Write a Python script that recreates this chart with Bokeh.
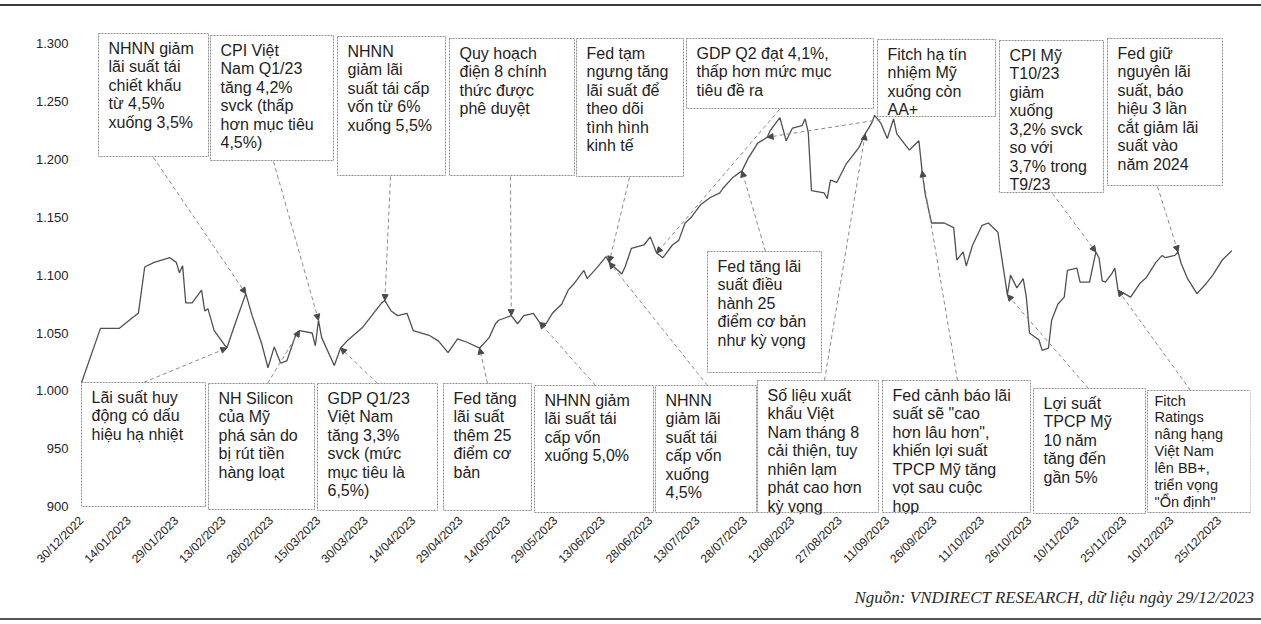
import math
from datetime import datetime, timedelta

from bokeh.plotting import figure
from bokeh.models import (ColumnDataSource, Range1d, FixedTicker, DatetimeTickFormatter,
                          Arrow, NormalHead, Div)
from bokeh.layouts import column
from bokeh.embed import file_html
from bokeh.resources import INLINE
from bokeh.core.properties import value

# ---------------------------------------------------------------- data
dates = [
    "2022-12-30", "2023-01-05", "2023-01-11", "2023-01-15", "2023-01-17", "2023-01-19",
    "2023-01-22", "2023-01-27", "2023-01-29", "2023-01-30", "2023-01-31", "2023-02-01",
    "2023-02-03", "2023-02-06", "2023-02-07", "2023-02-08", "2023-02-10", "2023-02-14",
    "2023-02-17", "2023-02-20", "2023-02-22", "2023-02-25", "2023-02-27", "2023-03-01",
    "2023-03-03", "2023-03-05", "2023-03-08", "2023-03-09", "2023-03-13", "2023-03-14",
    "2023-03-15", "2023-03-16", "2023-03-20", "2023-03-22", "2023-03-24", "2023-03-29",
    "2023-04-04", "2023-04-05", "2023-04-07", "2023-04-09", "2023-04-12", "2023-04-14",
    "2023-04-19", "2023-04-22", "2023-04-25", "2023-04-28", "2023-05-01", "2023-05-05",
    "2023-05-08", "2023-05-10", "2023-05-11", "2023-05-15", "2023-05-17", "2023-05-19",
    "2023-05-22", "2023-05-24", "2023-05-26", "2023-05-28", "2023-05-31", "2023-06-02",
    "2023-06-04", "2023-06-07", "2023-06-08", "2023-06-11", "2023-06-14", "2023-06-15",
    "2023-06-19", "2023-06-20", "2023-06-22", "2023-06-26", "2023-06-28", "2023-06-30",
    "2023-07-02", "2023-07-05", "2023-07-07", "2023-07-09", "2023-07-11", "2023-07-14",
    "2023-07-17", "2023-07-20", "2023-07-21", "2023-07-24", "2023-07-27", "2023-07-29",
    "2023-08-01", "2023-08-04", "2023-08-05", "2023-08-08", "2023-08-10", "2023-08-12",
    "2023-08-15", "2023-08-16", "2023-08-17", "2023-08-18", "2023-08-22", "2023-08-23",
    "2023-08-24", "2023-08-26", "2023-08-29", "2023-09-02", "2023-09-04", "2023-09-06",
    "2023-09-07", "2023-09-09", "2023-09-11", "2023-09-13", "2023-09-14", "2023-09-18",
    "2023-09-21", "2023-09-22", "2023-09-23", "2023-09-25", "2023-09-29", "2023-10-02",
    "2023-10-03", "2023-10-05", "2023-10-06", "2023-10-08", "2023-10-11", "2023-10-13",
    "2023-10-16", "2023-10-18", "2023-10-19", "2023-10-20", "2023-10-22", "2023-10-24",
    "2023-10-25", "2023-10-26", "2023-10-29", "2023-10-30", "2023-11-01", "2023-11-02",
    "2023-11-04", "2023-11-06", "2023-11-07", "2023-11-10", "2023-11-11", "2023-11-14",
    "2023-11-16", "2023-11-17", "2023-11-18", "2023-11-19", "2023-11-21", "2023-11-22",
    "2023-11-23", "2023-11-25", "2023-11-27", "2023-11-30", "2023-12-02", "2023-12-05",
    "2023-12-07", "2023-12-08", "2023-12-11", "2023-12-12", "2023-12-13", "2023-12-15",
    "2023-12-18", "2023-12-21", "2023-12-23", "2023-12-26", "2023-12-29",
]
vnindex = [
    1007, 1054, 1054, 1063, 1067, 1107,
    1111, 1115, 1111, 1102, 1108, 1076,
    1076, 1087, 1069, 1071, 1052, 1037,
    1061, 1084, 1065, 1041, 1020, 1038,
    1024, 1026, 1050, 1052, 1050, 1039,
    1061, 1046, 1022, 1037, 1043, 1055,
    1076, 1078, 1069, 1065, 1067, 1052,
    1048, 1043, 1033, 1045, 1042, 1037,
    1046, 1058, 1061, 1065, 1058, 1065,
    1067, 1059, 1058, 1067, 1075, 1087,
    1093, 1104, 1097, 1106, 1116, 1111,
    1101, 1107, 1123, 1126, 1133, 1119,
    1115, 1126, 1130, 1145, 1150, 1161,
    1167, 1171, 1175, 1184, 1190, 1201,
    1214, 1219, 1225, 1236, 1216, 1227,
    1229, 1235, 1223, 1173, 1171, 1166,
    1182, 1180, 1196, 1210, 1222, 1231,
    1238, 1231, 1218, 1235, 1222, 1208,
    1216, 1190, 1170, 1145, 1145, 1141,
    1113, 1120, 1108, 1126, 1143, 1145,
    1137, 1101, 1083, 1100, 1089, 1097,
    1081, 1050, 1044, 1035, 1037, 1061,
    1075, 1081, 1104, 1106, 1094, 1094,
    1120, 1115, 1095, 1094, 1101, 1106,
    1087, 1084, 1081, 1093, 1098, 1111,
    1117, 1115, 1117, 1120, 1110, 1097,
    1084, 1093, 1100, 1113, 1121,
]

x_tick_labels = [
    "30/12/2022", "14/01/2023", "29/01/2023", "13/02/2023", "28/02/2023", "15/03/2023",
    "30/03/2023", "14/04/2023", "29/04/2023", "14/05/2023", "29/05/2023", "13/06/2023",
    "28/06/2023", "13/07/2023", "28/07/2023", "12/08/2023", "27/08/2023", "11/09/2023",
    "26/09/2023", "11/10/2023", "26/10/2023", "10/11/2023", "25/11/2023", "10/12/2023",
    "25/12/2023",
]
y_ticks = [900, 950, 1000, 1050, 1100, 1150, 1200, 1250, 1300]
y_tick_labels = ["900", "950", "1.000", "1.050", "1.100", "1.150", "1.200", "1.250", "1.300"]

event_texts = [
    "NHNN giảm\nlãi suất tái\nchiết khấu\ntừ 4,5%\nxuống 3,5%",
    "CPI Việt\nNam Q1/23\ntăng 4,2%\nsvck (thấp\nhơn mục tiêu\n4,5%)",
    "NHNN\ngiảm lãi\nsuất tái cấp\nvốn từ 6%\nxuống 5,5%",
    "Quy hoạch\nđiện 8 chính\nthức được\nphê duyệt",
    "Fed tạm\nngưng tăng\nlãi suất để\ntheo dõi\ntình hình\nkinh tế",
    "GDP Q2 đạt 4,1%,\nthấp hơn mức mục\ntiêu đề ra",
    "Fitch hạ tín\nnhiệm Mỹ\nxuống còn\nAA+",
    "CPI Mỹ\nT10/23\ngiảm\nxuống\n3,2% svck\nso với\n3,7% trong\nT9/23",
    "Fed giữ\nnguyên lãi\nsuất, báo\nhiệu 3 lần\ncắt giảm lãi\nsuất vào\nnăm 2024",
    "Fed tăng lãi\nsuất điều\nhành 25\nđiểm cơ bản\nnhư kỳ vọng",
    "Lãi suất huy\nđộng có dấu\nhiệu hạ nhiệt",
    "NH Silicon\ncủa Mỹ\nphá sản do\nbị rút tiền\nhàng loạt",
    "GDP Q1/23\nViệt Nam\ntăng 3,3%\nsvck (mức\nmục tiêu là\n6,5%)",
    "Fed tăng\nlãi suất\nthêm 25\nđiểm cơ\nbản",
    "NHNN giảm\nlãi suất tái\ncấp vốn\nxuống 5,0%",
    "NHNN\ngiảm lãi\nsuất tái\ncấp vốn\nxuống\n4,5%",
    "Số liệu xuất\nkhẩu Việt\nNam tháng 8\ncải thiện, tuy\nnhiên lạm\nphát cao hơn\nkỳ vọng",
    "Fed cảnh báo lãi\nsuất sẽ \"cao\nhơn lâu hơn\",\nkhiến lợi suất\nTPCP Mỹ tăng\nvọt sau cuộc\nhọp",
    "Lợi suất\nTPCP Mỹ\n10 năm\ntăng đến\ngần 5%",
    "Fitch\nRatings\nnâng hạng\nViệt Nam\nlên BB+,\ntriển vọng\n\"Ổn định\"",
]
event_dates = [
    "2023-02-20", "2023-03-15", "2023-04-05", "2023-05-15", "2023-06-15", "2023-06-30",
    "2023-08-04", "2023-11-16", "2023-12-12", "2023-07-27",
    "2023-02-14", "2023-03-09", "2023-03-22", "2023-05-05", "2023-05-24", "2023-06-15",
    "2023-09-04", "2023-09-22", "2023-10-19", "2023-11-23",
]
source_text = "Nguồn: VNDIRECT RESEARCH, dữ liệu ngày 29/12/2023"

# ---------------------------------------------------------------- layout (pixels)
# box rectangles (left, right, top, bottom) and arrow tails, in page pixels
box_px = [
    (98, 208, 33, 156), (210, 333, 35, 160), (337, 445, 36, 175), (449, 574, 38, 175),
    (576, 683, 38, 176), (686, 873, 38, 108), (877, 995, 39, 116), (999, 1103, 40, 192),
    (1107, 1222, 38, 185), (707, 821, 251, 372),
    (81, 205, 382, 506), (208, 314, 383, 509), (317, 437, 383, 510), (443, 531, 383, 510),
    (534, 653, 385, 512), (655, 756, 385, 512), (757, 878, 380, 512), (882, 1030, 380, 512),
    (1033, 1145, 388, 513), (1147, 1250, 390, 512),
]
tail_px = [
    (153, 157), (273, 161), (390, 176), (510, 176), (629, 177), (779, 109),
    (880, 119), (1052, 193), (1157, 186), (765, 251),
    (143, 382), (267, 383), (377, 383), (487, 383), (595, 385), (707, 385),
    (824, 380), (957, 380), (1088, 388), (1190, 390),
]
# (font size, left padding, top padding, line height) per text block
text_style = [("16px", 10, 6, 1.09)] * 19 + [("14.5px", 7, 2, 1.06)]

ORIGIN = datetime(2022, 12, 30)
EPOCH = datetime(1970, 1, 1)
PX0, PX_PER_DAY = 81.0, 3.16       # x pixel of 30/12/2022, pixels per day
PY1300, PX_PER_UNIT = 43.0, 1.158  # y pixel of 1.300, pixels per index point


def ms(dt):
    return (dt - EPOCH).total_seconds() * 1000.0


def px_x(px):
    return ms(ORIGIN + timedelta(days=(px - PX0) / PX_PER_DAY))


def px_y(py):
    return 1300.0 - (py - PY1300) / PX_PER_UNIT


date_ms = [ms(datetime.strptime(d, "%Y-%m-%d")) for d in dates]
lookup = dict(zip(dates, vnindex))
tick_ms = [ms(datetime.strptime(t, "%d/%m/%Y")) for t in x_tick_labels]

p = figure(width=1258, height=575, title=None,
           x_range=Range1d(px_x(74), px_x(1250)),
           y_range=Range1d(px_y(514), px_y(30)),
           x_axis_type="datetime", output_backend="svg", toolbar_location=None,
           min_border_left=74, min_border_right=8, min_border_top=24, min_border_bottom=67)
p.outline_line_color = None
p.xgrid.grid_line_color = None
p.ygrid.grid_line_color = None
p.background_fill_color = "white"
p.border_fill_color = "white"

# main series
p.line(x=date_ms, y=vnindex, line_color="#505050", line_width=1.3)

# annotation boxes
p.quad(left=[px_x(b[0]) for b in box_px], right=[px_x(b[1]) for b in box_px],
       top=[px_y(b[2]) for b in box_px], bottom=[px_y(b[3]) for b in box_px],
       fill_color="white", line_color="#8f8f8f", line_width=1, line_dash="2 1")

# box texts, grouped by style
for style in sorted(set(text_style)):
    idx = [i for i, s in enumerate(text_style) if s == style]
    fs, padx, pady, lh = style
    src = ColumnDataSource(dict(
        x=[px_x(box_px[i][0] + padx) for i in idx],
        y=[px_y(box_px[i][2] + pady) for i in idx],
        text=[event_texts[i] for i in idx]))
    p.text(x="x", y="y", text="text", source=src, text_font=value("Liberation Sans"),
           text_font_size=fs, text_color="#1e1e1e", text_align="left",
           text_baseline="top", text_line_height=lh)

# arrows from boxes to the data points
asrc = ColumnDataSource(dict(
    xs=[px_x(t[0]) for t in tail_px], ys=[px_y(t[1]) for t in tail_px],
    xe=[ms(datetime.strptime(d, "%Y-%m-%d")) for d in event_dates],
    ye=[lookup[d] for d in event_dates]))
p.add_layout(Arrow(end=NormalHead(size=6, fill_color="#4a4a4a", line_color="#4a4a4a"),
                   x_start="xs", y_start="ys", x_end="xe", y_end="ye", source=asrc,
                   line_color="#8a8a8a", line_width=1, line_dash="4 3"))

# axes
fmt = "%d/%m/%Y"
p.xaxis.ticker = FixedTicker(ticks=tick_ms)
p.xaxis.formatter = DatetimeTickFormatter(days=fmt, months=fmt, years=fmt, hours=fmt,
                                          hourmin=fmt, minutes=fmt, minsec=fmt,
                                          seconds=fmt, milliseconds=fmt, microseconds=fmt)
p.xaxis.major_label_orientation = math.pi / 4
p.xaxis.major_label_text_font = "Liberation Sans"
p.xaxis.major_label_text_font_size = "12px"
p.xaxis.major_label_text_color = "#222222"
p.xaxis.major_label_standoff = 4

p.yaxis.ticker = FixedTicker(ticks=y_ticks)
p.yaxis.major_label_overrides = {t: l for t, l in zip(y_ticks, y_tick_labels)}
p.yaxis.major_label_text_font = "Liberation Sans"
p.yaxis.major_label_text_font_size = "13px"
p.yaxis.major_label_text_color = "#222222"
p.yaxis.major_label_standoff = 6

for ax in (p.xaxis, p.yaxis):
    ax.axis_line_color = None
    ax.major_tick_line_color = None
    ax.minor_tick_line_color = None
    ax.major_tick_out = 0
    ax.major_tick_in = 0

top_rule = Div(text="", width=1261, height=6, margin=0,
               styles={"border-bottom": "2px solid #3c3c3c", "box-sizing": "border-box"})
bottom = Div(text=source_text, width=1261, height=39, margin=0,
             styles={"text-align": "right", "font-family": "'Liberation Serif'",
                     "font-style": "italic", "font-size": "17px", "color": "#2a2a2a",
                     "line-height": "34px", "border-bottom": "2px solid #555555",
                     "box-sizing": "border-box", "padding-right": "7px"})

layout = column(top_rule, p, bottom, spacing=0)
open("out.html", "w").write(file_html(layout, INLINE))
